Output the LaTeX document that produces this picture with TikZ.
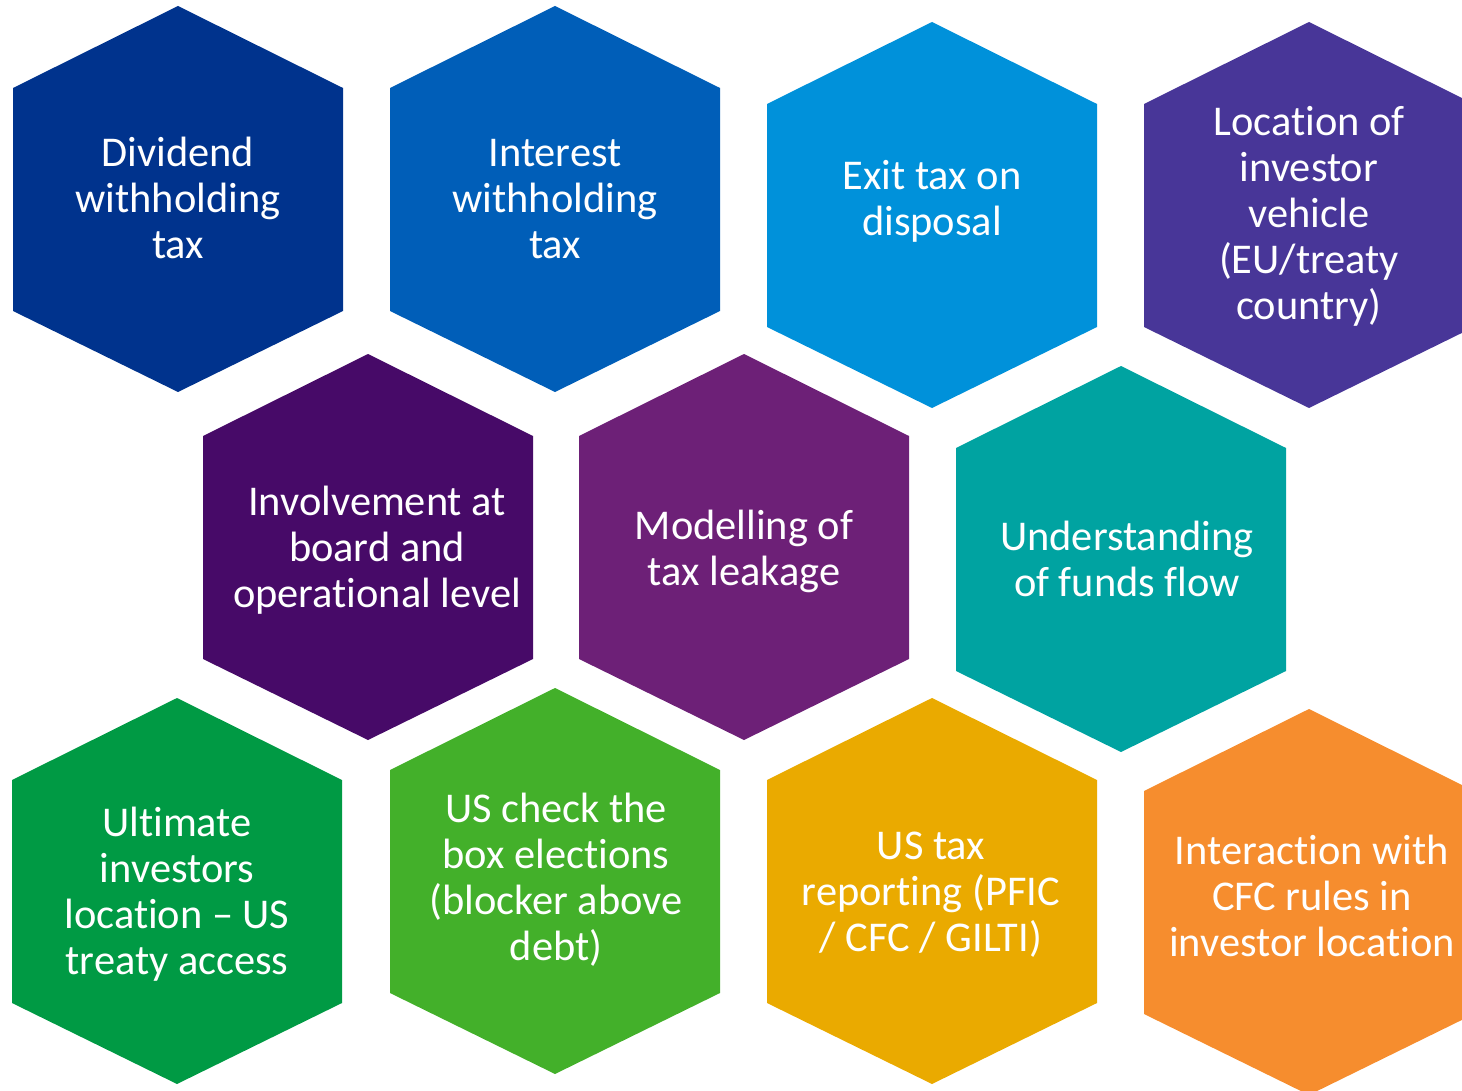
\documentclass[tikz,border=0pt]{standalone}
\usepackage{fontspec}
\setmainfont{Carlito}[Ligatures={NoCommon,NoContextual},RawFeature={-liga;-clig;-dlig;-calt}]
\definecolor{hexA}{HTML}{00338D}
\definecolor{hexB}{HTML}{005EB8}
\definecolor{hexC}{HTML}{0091DA}
\definecolor{hexD}{HTML}{483698}
\definecolor{hexE}{HTML}{470A68}
\definecolor{hexF}{HTML}{6D2077}
\definecolor{hexG}{HTML}{00A3A1}
\definecolor{hexH}{HTML}{009A44}
\definecolor{hexI}{HTML}{43B02A}
\definecolor{hexJ}{HTML}{EAAA00}
\definecolor{hexK}{HTML}{F68D2E}
% #1 centre x, #2 top y, #3 fill colour
\newcommand{\hexcell}[3]{%
  \fill[#3] (#1,#2) -- ++(165,82) -- ++(0,223) -- ++(-165,81)
    -- ++(-165,-81) -- ++(0,-223) -- cycle;}
% "t" followed by "i" kept as two separate letters
\newcommand{\tI}{t\kern0pt i}
\begin{document}
\begin{tikzpicture}[x=0.5pt,y=-0.5pt,
  label/.style={text=white,align=center,anchor=base,inner sep=0pt,
    font=\fontsize{21.2}{23}\selectfont}]
\useasboundingbox (0,0) rectangle (1462,1091);
\clip (0,0) rectangle (1462,1091);
% top row
\hexcell{178}{6}{hexA}
\hexcell{555}{6}{hexB}
\hexcell{932}{22}{hexC}
\hexcell{1309}{22}{hexD}
% middle row
\hexcell{368}{354}{hexE}
\hexcell{744}{354}{hexF}
\hexcell{1121}{366}{hexG}
% bottom row
\hexcell{177}{698}{hexH}
\hexcell{555}{688}{hexI}
\hexcell{932}{698}{hexJ}
\hexcell{1309}{709}{hexK}
% labels (placed at the baseline of their last line)
\node[label] (dwt) at (178,259) {Dividend\\withholding\\tax};
\node[label] (iwt) at (555,259) {Interest\\withholding\\tax};
\node[label] (exit) at (932,236) {Exit tax on\\disposal};
\node[label] (loc) at (1309,320) {Location of\\investor\\vehicle\\(EU/treaty\\country)};
\node[label] (inv) at (377,607) {Involvement at\\board and\\opera\tI onal level};
\node[label] (model) at (744,585) {Modelling of\\tax leakage};
\node[label] (flow) at (1127,596) {Understanding\\of funds flow};
\node[label] (ult) at (177,974) {Ul\tI mate\\investors\\location – US\\treaty access};
\node[label] (ctb) at (556,960) {US check the\\box elections\\(blocker above\\debt)};
\node[label] (rep) at (931,951) {US tax\\repor\tI ng (PFIC\\/ CFC / GILTI)};
\node[label] (cfc) at (1312,956) {Interaction with\\CFC rules in\\investor location};
\end{tikzpicture}
\end{document}
